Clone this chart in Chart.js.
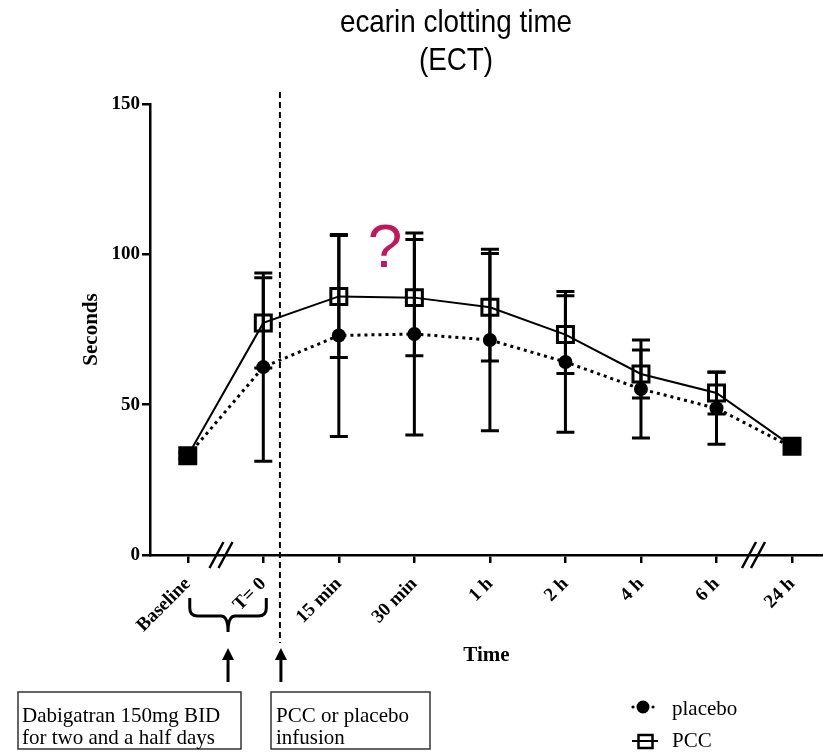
<!DOCTYPE html>
<html>
<head>
<meta charset="utf-8">
<title>ecarin clotting time (ECT)</title>
<script src="https://cdn.jsdelivr.net/npm/chart.js@4.4.1/dist/chart.umd.min.js"></script>
<style>
    html, body { margin: 0; padding: 0; background: #fff; }
    canvas { display: block; }
</style>
</head>
<body>
<canvas id="chart" width="823" height="752"></canvas>
<script>
// ECT in seconds, mean and SD at each sampling time
const timeLabels = ['Baseline', 'T= 0', '15 min', '30 min', '1 h', '2 h', '4 h', '6 h', '24 h'];
const placeboMean = [33, 62.5, 73, 73.5, 71.5, 64.2, 55.2, 48.8, 35.8];
const placeboSd = [1, 31.3, 33.6, 33.6, 30.2, 23.4, 16.3, 12, 1];
const pccMean = [33, 77.2, 86, 85.6, 82.4, 73.3, 60.2, 53.9, 36.2];
const pccSd = [1, 15, 20.3, 19.3, 17.9, 12.9, 8, 7, 1];
const yTicks = [0, 50, 100, 150];

const SERIF = '"Liberation Serif", "Times New Roman", serif';
const SANS = '"Liberation Sans", Arial, sans-serif';

document.addEventListener('DOMContentLoaded', function () {
    const ctx = document.getElementById('chart').getContext('2d');

    // vertical SD bars with caps, drawn on top of the lines
    const errorBars = {
        id: 'errorBars',
        afterDatasetsDraw(chart) {
            const c = chart.ctx;
            const y = chart.scales.y;
            chart.data.datasets.forEach((ds, di) => {
                const meta = chart.getDatasetMeta(di);
                meta.data.forEach((pt, i) => {
                    const top = y.getPixelForValue(ds.data[i].y + ds.sd[i]);
                    const bottom = y.getPixelForValue(ds.data[i].y - ds.sd[i]);
                    c.save();
                    c.strokeStyle = '#000';
                    c.lineWidth = 3;
                    c.beginPath();
                    c.moveTo(pt.x, top);
                    c.lineTo(pt.x, bottom);
                    c.moveTo(pt.x - 9, top);
                    c.lineTo(pt.x + 9, top);
                    c.moveTo(pt.x - 9, bottom);
                    c.lineTo(pt.x + 9, bottom);
                    c.stroke();
                    c.restore();
                });
            });
        }
    };

    function arrowUp(c, x, top, bottom) {
        c.beginPath();
        c.moveTo(x, bottom);
        c.lineTo(x, top + 10);
        c.lineWidth = 3;
        c.stroke();
        c.beginPath();
        c.moveTo(x, top);
        c.lineTo(x - 6, top + 12);
        c.lineTo(x + 6, top + 12);
        c.closePath();
        c.fill();
    }

    function axisBreak(c, x, y) {
        c.beginPath();
        [-4.5, 4.5].forEach(dx => {
            c.moveTo(x + dx - 7, y + 13);
            c.lineTo(x + dx + 7, y - 13);
        });
        c.lineWidth = 2.5;
        c.stroke();
    }

    const annotations = {
        id: 'annotations',
        afterDraw(chart) {
            const c = chart.ctx;
            const xs = chart.scales.x;
            const area = chart.chartArea;
            c.save();
            c.fillStyle = '#000';
            c.strokeStyle = '#000';

            // title, narrow sans
            c.font = '32px ' + SANS;
            c.textAlign = 'center';
            c.textBaseline = 'alphabetic';
            [['ecarin clotting time', 32], ['(ECT)', 70]].forEach(([t, by]) => {
                c.save();
                c.translate(456, by);
                c.scale(0.87, 1);
                c.fillText(t, 0, 0);
                c.restore();
            });

            // red question mark over the 15-30 min peak
            c.fillStyle = '#c0175d';
            c.font = '62px ' + SANS;
            c.fillText('?', 385, 267);
            c.fillStyle = '#000';

            // infusion marker
            const xInf = xs.getPixelForValue(1.22);
            c.save();
            c.setLineDash([6, 4]);
            c.lineWidth = 2;
            c.beginPath();
            c.moveTo(xInf, 92);
            c.lineTo(xInf, 643);
            c.stroke();
            c.restore();

            // axis breaks
            axisBreak(c, xs.getPixelForValue(0.44), area.bottom);
            axisBreak(c, xs.getPixelForValue(7.49), area.bottom);

            // brace under Baseline .. T=0
            const bl = xs.getPixelForValue(0) + 2;
            const br = xs.getPixelForValue(1) + 3;
            const bm = (bl + br) / 2;
            c.lineWidth = 3;
            c.beginPath();
            c.moveTo(bl, 598);
            c.lineTo(bl, 608);
            c.quadraticCurveTo(bl, 616, bl + 8, 616);
            c.lineTo(bm - 7, 616);
            c.quadraticCurveTo(bm, 616, bm, 632);
            c.quadraticCurveTo(bm, 616, bm + 7, 616);
            c.lineTo(br - 8, 616);
            c.quadraticCurveTo(br, 616, br, 608);
            c.lineTo(br, 598);
            c.stroke();

            arrowUp(c, bm, 648, 682);
            arrowUp(c, xInf + 1, 648, 682);

            // note boxes
            c.strokeStyle = '#333';
            c.lineWidth = 1.5;
            c.strokeRect(18, 692, 223, 57);
            c.strokeRect(271, 692, 159, 57);
            c.font = '21px ' + SERIF;
            c.textAlign = 'left';
            c.fillText('Dabigatran 150mg BID', 22, 722);
            c.fillText('for two and a half days', 22, 744);
            c.fillText('PCC or placebo', 276, 722);
            c.fillText('infusion', 276, 744);

            // legend
            c.strokeStyle = '#000';
            c.beginPath();
            c.arc(633, 707, 1.6, 0, Math.PI * 2);
            c.arc(653, 707, 1.6, 0, Math.PI * 2);
            c.fill();
            c.beginPath();
            c.arc(643, 707, 6.5, 0, Math.PI * 2);
            c.fill();
            c.lineWidth = 2;
            c.beginPath();
            c.moveTo(632, 741);
            c.lineTo(658, 741);
            c.stroke();
            c.lineWidth = 2.5;
            c.strokeRect(638.5, 735, 14, 13);
            c.fillText('placebo', 672, 715);
            c.fillText('PCC', 672, 747);

            c.restore();
        }
    };

    const pccFill = pccMean.map((_, i) => (i === 0 || i === pccMean.length - 1) ? '#000' : 'rgba(0,0,0,0)');

    new Chart(ctx, {
        type: 'line',
        data: {
            datasets: [{
                label: 'PCC',
                data: pccMean.map((v, i) => ({ x: i, y: v })),
                sd: pccSd,
                borderColor: '#000',
                borderWidth: 2,
                pointStyle: 'rect',
                pointRadius: 11.3,
                pointBorderWidth: 3,
                pointBorderColor: '#000',
                pointBackgroundColor: pccFill,
                tension: 0
            }, {
                label: 'placebo',
                data: placeboMean.map((v, i) => ({ x: i, y: v })),
                sd: placeboSd,
                borderColor: '#000',
                borderWidth: 3,
                borderDash: [3, 4],
                pointStyle: 'circle',
                pointRadius: 7,
                pointBorderWidth: 0,
                pointBackgroundColor: '#000',
                tension: 0
            }]
        },
        options: {
            responsive: false,
            animation: false,
            layout: {
                autoPadding: false,
                padding: { top: 104, left: 0, right: 0, bottom: 0 }
            },
            plugins: {
                legend: { display: false },
                title: { display: false },
                tooltip: { enabled: false }
            },
            scales: {
                x: {
                    type: 'linear',
                    min: -0.5,
                    max: 8.41,
                    afterBuildTicks: scale => {
                        scale.ticks = timeLabels.map((_, i) => ({ value: i }));
                    },
                    afterFit: scale => {
                        scale.height = 197;
                        scale.paddingLeft = 0;
                        scale.paddingRight = 0;
                    },
                    ticks: {
                        autoSkip: false,
                        maxRotation: 45,
                        minRotation: 45,
                        padding: 10,
                        color: '#000',
                        font: { family: SERIF, size: 19, weight: 'bold' },
                        callback: value => timeLabels[value]
                    },
                    grid: { drawOnChartArea: false, drawTicks: true, tickLength: 8, color: '#000', lineWidth: 2.5 },
                    border: { color: '#000', width: 2.5 },
                    title: {
                        display: true,
                        text: 'Time',
                        color: '#000',
                        font: { family: SERIF, size: 21, weight: 'bold' },
                        padding: { top: 0, bottom: 84 }
                    }
                },
                y: {
                    min: 0,
                    max: 150,
                    afterBuildTicks: scale => {
                        scale.ticks = yTicks.map(v => ({ value: v }));
                    },
                    afterFit: scale => { scale.width = 150; },
                    ticks: {
                        padding: 2,
                        color: '#000',
                        font: { family: SERIF, size: 19, weight: 'bold' }
                    },
                    grid: { drawOnChartArea: false, drawTicks: true, tickLength: 8, color: '#000', lineWidth: 2.5 },
                    border: { color: '#000', width: 2.5 },
                    title: {
                        display: true,
                        text: 'Seconds',
                        color: '#000',
                        font: { family: SERIF, size: 21, weight: 'bold' },
                        padding: { top: 79, bottom: 0 }
                    }
                }
            }
        },
        plugins: [errorBars, annotations]
    });
});
</script>
</body>
</html>
